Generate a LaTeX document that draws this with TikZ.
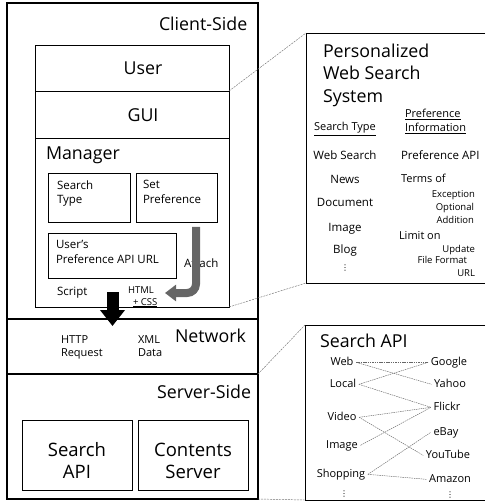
\documentclass[tikz,border=0pt]{standalone}
\usepackage{fontspec}
\setmainfont{Open Sans}
\newfontfamily\djv{DejaVu Sans}
\usetikzlibrary{arrows.meta}
\newcommand\szXL{\fontsize{18.5}{22}\selectfont}
\newcommand\szL{\fontsize{17.8}{21}\selectfont}
\newcommand\szM{\fontsize{11.5}{14}\selectfont}
\newcommand\szS{\fontsize{11}{13}\selectfont}
\newcommand\szT{\fontsize{9.5}{11}\selectfont}
\newcommand\vd{{\djv\fontsize{8}{9}\selectfont ⋮}}
\begin{document}
\begin{tikzpicture}[x=1pt,y=-1pt,
  frame/.style={draw, line width=1.1pt, inner sep=0, outer sep=0, anchor=north west},
  box/.style={draw, line width=0.8pt, inner sep=0, outer sep=0, anchor=north west},
  panel/.style={draw=none, inner sep=0, outer sep=0, anchor=north west},
  txt/.style={inner sep=0, outer sep=0, anchor=base west},
  ctxt/.style={inner sep=0, outer sep=0, anchor=base},
  rtxt/.style={inner sep=0, outer sep=0, anchor=base east},
  item/.style={inner sep=2.5pt, anchor=base, font=\szS},
  dots/.style={inner sep=0, outer sep=0, anchor=center},
  callout/.style={draw=black!55, line width=0.45pt, dash pattern=on 2pt off 1pt},
  link/.style={draw=black!60, line width=0.45pt, dash pattern=on 1.5pt off 0.8pt},
]
\useasboundingbox (0,0) rectangle (485,502);

% ---------- left column ----------
\node[frame, minimum width=251pt, minimum height=316pt] (client) at (7,3) {};
\node[frame, minimum width=251pt, minimum height=55pt] (network) at (7,319) {};
\node[frame, minimum width=251pt, minimum height=125pt] (server) at (7,374) {};

\node[txt, font=\szL] (tclient) at (159,31) {Client-Side};

\node[box, minimum width=194pt, minimum height=46pt] (user) at (35,45) {};
\node[box, minimum width=194pt, minimum height=47pt] (gui) at (35,91) {};
\node[box, minimum width=194pt, minimum height=169pt] (manager) at (35,138) {};
\node[ctxt, font=\szL] (tuser) at (143,75) {User};
\node[ctxt, font=\szL] (tgui) at (143,122) {GUI};
\node[txt, font=\szL] (tmanager) at (46,160) {Manager};

\node[box, minimum width=82pt, minimum height=49pt] (stype) at (48,173) {};
\node[txt, font=\szM] (tst1) at (57,190) {Search};
\node[txt, font=\szM] (tst2) at (57,204) {Type};
\node[box, minimum width=81pt, minimum height=49pt] (setpref) at (136,173) {};
\node[txt, font=\szM] (tsp1) at (143,189) {Set};
\node[txt, font=\szM] (tsp2) at (143,204) {Preference};
\node[box, minimum width=128pt, minimum height=45pt] (url) at (48,233) {};
\node[txt, font=\szM] (tu1) at (56,248) {User’s};
\node[txt, font=\szM] (tu2) at (56,263) {Preference API URL};

\node[txt, font=\szM] (tattach) at (184,267) {Attach};
\node[txt, font=\szM] (tscript) at (57,295) {Script};
\node[txt, font=\szT] (thtml) at (128,293) {HTML};
\node[txt, font=\szT] (tcss) at (133,305) {\underline{+ CSS}};

% attach arrow (drawn over the label)
\coordinate (aA) at (196,227);
\coordinate (aC) at (196,293);
\coordinate (aB) at (165,293);
\draw[line width=8pt, black!60, rounded corners=9pt, -{Triangle[length=11pt,width=16pt]}] (aA) -- (aC) -- (aB);

% black arrow
\coordinate (bA) at (112.5,292);
\coordinate (bB) at (112.5,326);
\draw[line width=12pt, -{Triangle[length=16pt,width=24pt]}] (bA) -- (bB);

\node[txt, font=\szS] (thttp1) at (61,343) {HTTP};
\node[txt, font=\szS] (thttp2) at (61,356) {Request};
\node[txt, font=\szS] (txml1) at (138,343) {XML};
\node[txt, font=\szS] (txml2) at (138,356) {Data};
\node[txt, font=\szL] (tnet) at (175,342) {Network};

\node[txt, font=\szL] (tserver) at (157,398) {Server-Side};
\node[box, minimum width=110pt, minimum height=70pt] (sapi) at (22,420) {};
\node[ctxt, font=\szXL] (tsa1) at (77,456) {Search};
\node[ctxt, font=\szXL] (tsa2) at (77,478) {API};
\node[box, minimum width=110pt, minimum height=70pt] (cserv) at (138,420) {};
\node[ctxt, font=\szXL] (tcs1) at (193,456) {Contents};
\node[ctxt, font=\szXL] (tcs2) at (193,478) {Server};

% ---------- right panel 1 ----------
\node[panel, minimum width=179pt, minimum height=250pt] (pws) at (306,33) {};
\draw[line width=0.8pt] (pws.north east) -- (pws.north west) -- (pws.south west) -- (pws.south east);
\node[txt, font=\szL] (tp1) at (323,58) {Personalized};
\node[txt, font=\szL] (tp2) at (323,80) {Web Search};
\node[txt, font=\szL] (tp3) at (323,103) {System};

\node[ctxt, font=\szS] (hst) at (345,131) {\underline{Search Type}};
\node[txt, font=\szS] (hpi1) at (405,118) {\underline{Preference}};
\node[txt, font=\szS] (hpi2) at (405,132) {\underline{Information}};

\node[ctxt, font=\szM] (l1) at (345,160) {Web Search};
\node[ctxt, font=\szM] (l2) at (345,184) {News};
\node[ctxt, font=\szM] (l3) at (345,207) {Document};
\node[ctxt, font=\szM] (l4) at (345,231) {Image};
\node[ctxt, font=\szM] (l5) at (345,253) {Blog};
\node[dots] (l6) at (345,268.5) {\vd};

\node[txt, font=\szM] (r1) at (401,160) {Preference API};
\node[txt, font=\szS] (r2) at (401,183) {Terms of};
\node[rtxt, font=\szT] (r3) at (475,198) {Exception};
\node[rtxt, font=\szT] (r4) at (474,211) {Optional};
\node[rtxt, font=\szT] (r5) at (474,224) {Addition};
\node[txt, font=\szS] (r6) at (399,240) {Limit on};
\node[rtxt, font=\szT] (r7) at (475,252) {Update};
\node[rtxt, font=\szT] (r8) at (467,263) {File Format};
\node[rtxt, font=\szT] (r9) at (475,276) {URL};

% ---------- right panel 2 ----------
\node[panel, minimum width=180pt, minimum height=175pt] (apibox) at (305,325) {};
\draw[line width=0.8pt] (apibox.north east) -- (apibox.north west) -- (apibox.south west) -- (apibox.south east);
\node[txt, font=\szL] (tapi) at (320,347) {Search API};

\node[item] (sWeb) at (342,365) {Web};
\node[item] (sLocal) at (343,387) {Local};
\node[item] (sVideo) at (342,420) {Video};
\node[item] (sImage) at (342,448) {Image};
\node[item] (sShop) at (341,477) {Shopping};
\node[dots] (sDots) at (344,494) {\vd};

\node[item] (sGoogle) at (449,365) {Google};
\node[item] (sYahoo) at (450,387) {Yahoo};
\node[item] (sFlickr) at (447,410) {Flickr};
\node[item] (sEbay) at (446,435) {eBay};
\node[item] (sYou) at (448,458) {YouTube};
\node[item] (sAmazon) at (450,482) {Amazon};
\node[dots] (sDots2) at (450,495) {\vd};

\draw[link] (sWeb.mid east) -- (sGoogle.mid west);
\draw[link] (sWeb.mid east) -- (sYahoo.mid west);
\draw[link] (sLocal.mid east) -- (sGoogle.mid west);
\draw[link] (sLocal.mid east) -- (sFlickr.mid west);
\draw[link] (sVideo.mid east) -- (sFlickr.mid west);
\draw[link] (sImage.mid east) -- (sFlickr.mid west);
\draw[link] (sVideo.mid east) -- (sYou.mid west);
\draw[link] (sShop.mid east) -- (sEbay.mid west);
\draw[link] (sShop.mid east) -- (sAmazon.mid west);

% ---------- callout lines ----------
\draw[callout] (gui.north east) -- (pws.north west);
\draw[callout] (manager.south east) -- (pws.south west);
\draw[callout] (server.north east) -- (apibox.north west);
\draw[callout] (server.south east) -- (apibox.south west);
\end{tikzpicture}
\end{document}
